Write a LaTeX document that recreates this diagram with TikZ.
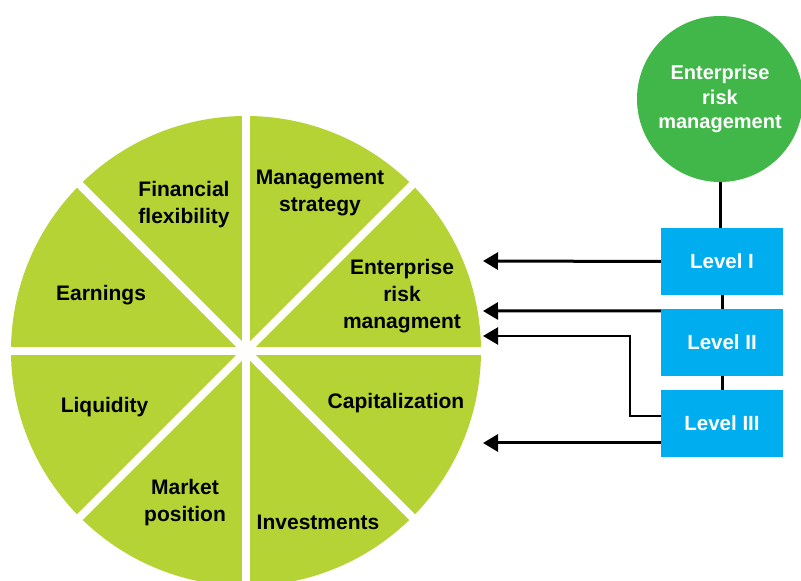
\documentclass[tikz,border=0pt]{standalone}
\usepackage{fontspec}
\setmainfont{Liberation Sans}
\usetikzlibrary{arrows.meta}
\definecolor{piegreen}{HTML}{B5D334}
\definecolor{ermgreen}{HTML}{41B649}
\definecolor{levelblue}{HTML}{00AEEF}
\begin{document}
\begin{tikzpicture}[x=1pt, y=1pt,
    slice/.style={font=\bfseries\fontsize{21}{27}\selectfont, align=center, inner sep=0pt},
    levelbox/.style={fill=levelblue, minimum width=122pt, minimum height=67pt, inner sep=0pt, text=white, font=\bfseries\fontsize{20.5}{24}\selectfont},
    feed/.style={-{Triangle[length=15pt,width=17pt]}, line width=3pt, black}]
    \useasboundingbox (0,0) rectangle (801,581);
    % pie with eight slices
    \coordinate (c) at (246,230);
    \fill[piegreen] (c) circle (235);
    \foreach \a in {0,45,90,135}
        \draw[white, line width=8pt] (c) ++(\a:240) -- ++(\a+180:480);
    \node[slice] (s0) at (320,388) {Management\\strategy};
    \node[slice] (s1) at (402,284.5) {Enterprise\\risk\\managment};
    \node[slice] (s2) at (396,178) {Capitalization};
    \node[slice] (s3) at (318,58.5) {Investments};
    \node[slice] (s4) at (185,78) {Market\\position};
    \node[slice] (s5) at (104.5,174) {Liquidity};
    \node[slice] (s6) at (101,286) {Earnings};
    \node[slice] (s7) at (184,376.5) {Financial\\flexibility};
    % top circle and levels
    \node[circle, fill=ermgreen, minimum size=166pt, inner sep=0pt, text=white, align=center,
          font=\bfseries\fontsize{20}{24.5}\selectfont] (erm) at (720,482) {Enterprise\\risk\\management};
    \node[levelbox] (lv1) at (722,319.5) {Level I};
    \node[levelbox] (lv2) at (722,238.5) {Level II};
    \node[levelbox] (lv3) at (722,157.5) {Level III};
    \draw[line width=3pt] (erm.south) -- (erm.south |- lv1.north);
    \draw[line width=3pt] (lv1.south) -- (lv2.north);
    \draw[line width=3pt] (lv2.south) -- (lv3.north);
    % arrows into the pie
    \coordinate (t1) at (483,320);
    \coordinate (t2) at (483,270);
    \coordinate (t3) at (483,245);
    \coordinate (t4) at (483,138);
    \draw[feed] (lv1.west) -- (t1);
    \draw[feed] ([yshift=-2pt]lv2.north west) -- (t2);
    \draw[feed, line width=2.4pt] ([yshift=7.5pt]lv3.west) -- ++(-31,0) |- (t3);
    \draw[feed] ([yshift=-19.5pt]lv3.west) -- (t4);
\end{tikzpicture}
\end{document}
